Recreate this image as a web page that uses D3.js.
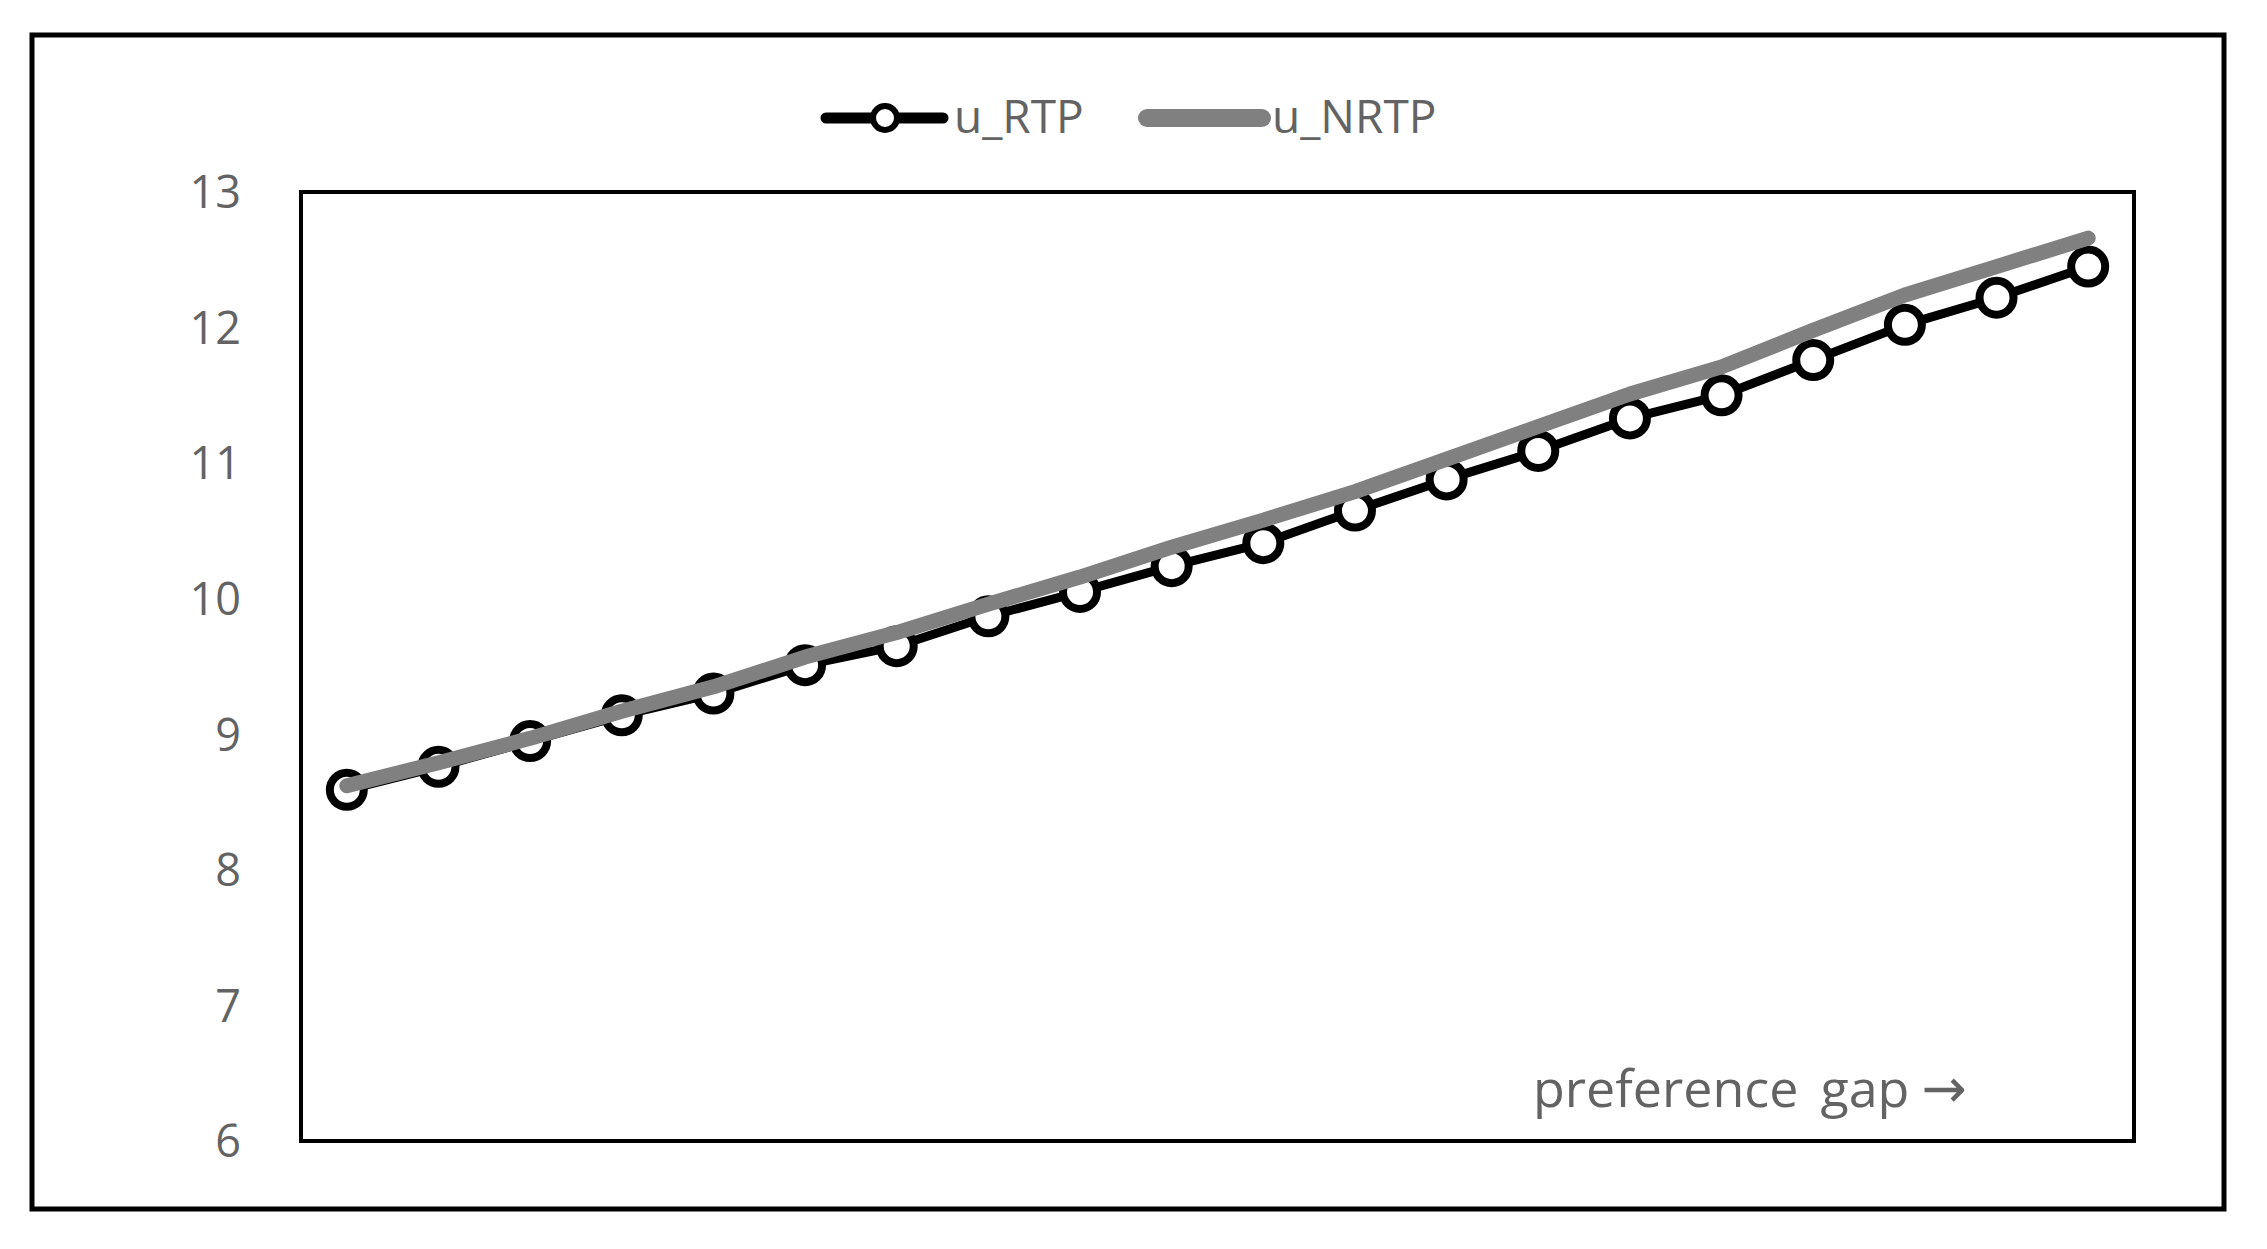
<!DOCTYPE html>
<html>
<head>
<meta charset="utf-8">
<script src="https://cdn.jsdelivr.net/npm/d3@7"></script>
<style>
  html, body { margin: 0; padding: 0; background: #fff; }
  svg { display: block; }
</style>
</head>
<body>
<svg id="chart" width="2267" height="1249"></svg>
<script>
// ---- data ----
const categories = ["1","2","3","4","5","6","7","8","9","10","11","12","13","14","15","16","17","18","19","20"];
const uRTP  = [8.59, 8.76, 8.95, 9.14, 9.30, 9.51, 9.65, 9.87, 10.05, 10.24, 10.41, 10.65, 10.88, 11.09, 11.33, 11.50, 11.76, 12.02, 12.22, 12.45];
const uNRTP = [8.62, 8.79, 8.97, 9.17, 9.35, 9.57, 9.75, 9.96, 10.16, 10.38, 10.58, 10.79, 11.03, 11.27, 11.51, 11.71, 11.98, 12.24, 12.45, 12.66];
const yTicks = [6, 7, 8, 9, 10, 11, 12, 13];
const seriesNames = ["u_RTP", "u_NRTP"];
const axisNoteWords = ["preference", "gap"];
const axisNoteArrow = "\u2192";

// ---- layout ----
const svg = d3.select("#chart");
const plot = { left: 301, right: 2134, top: 192, bottom: 1141 };
const textColor = "#636363";
const font = "'Open Sans', 'Noto Sans', sans-serif";

// outer frame
svg.append("rect")
  .attr("x", 32).attr("y", 35)
  .attr("width", 2224 - 32).attr("height", 1209 - 35)
  .attr("fill", "#fff").attr("stroke", "#000").attr("stroke-width", 5);

const x = d3.scalePoint().domain(categories).range([plot.left, plot.right]).padding(0.5);
const y = d3.scaleLinear().domain([6, 13]).range([plot.bottom, plot.top]);

// y axis labels
const yAxis = d3.axisLeft(y).tickValues(yTicks).tickSize(0).tickPadding(0).tickFormat(d3.format("d"));
const gy = svg.append("g").attr("transform", `translate(${241},0)`).call(yAxis);
gy.select(".domain").remove();
gy.selectAll("text")
  .attr("font-family", font).attr("font-size", 45)
  .attr("fill", textColor).attr("dy", "0.35em");

// plot frame
svg.append("rect")
  .attr("x", plot.left).attr("y", plot.top)
  .attr("width", plot.right - plot.left).attr("height", plot.bottom - plot.top)
  .attr("fill", "none").attr("stroke", "#000").attr("stroke-width", 4);

const line = d3.line().x((d, i) => x(categories[i])).y(d => y(d));

// RTP line + markers
svg.append("path").datum(uRTP)
  .attr("d", line).attr("fill", "none")
  .attr("stroke", "#000").attr("stroke-width", 9)
  .attr("stroke-linejoin", "round").attr("stroke-linecap", "round");

svg.append("g").selectAll("circle").data(uRTP).join("circle")
  .attr("cx", (d, i) => x(categories[i])).attr("cy", d => y(d))
  .attr("r", 17).attr("fill", "#fff").attr("stroke", "#000").attr("stroke-width", 8);

// NRTP line
svg.append("path").datum(uNRTP)
  .attr("d", line).attr("fill", "none")
  .attr("stroke", "#808080").attr("stroke-width", 15)
  .attr("stroke-linejoin", "round").attr("stroke-linecap", "round");

// axis note
const note = svg.append("text")
  .attr("x", 1533).attr("y", 1107)
  .attr("font-family", font).attr("font-size", 52)
  .attr("fill", textColor);
note.append("tspan").text(axisNoteWords[0]);
note.append("tspan").attr("dx", 22).text(axisNoteWords[1]);
note.append("tspan").attr("dx", 12).attr("font-family", "'DejaVu Sans', sans-serif")
  .attr("font-size", 54).text(axisNoteArrow);

// legend
const lg = svg.append("g");
lg.append("line").attr("x1", 826).attr("x2", 943).attr("y1", 118).attr("y2", 118)
  .attr("stroke", "#000").attr("stroke-width", 11).attr("stroke-linecap", "round");
lg.append("circle").attr("cx", 885).attr("cy", 118).attr("r", 12)
  .attr("fill", "#fff").attr("stroke", "#000").attr("stroke-width", 6);
lg.append("text").attr("x", 954).attr("y", 133)
  .attr("font-family", font).attr("font-size", 46).attr("fill", textColor)
  .text(seriesNames[0]);
lg.append("line").attr("x1", 1147).attr("x2", 1262).attr("y1", 118).attr("y2", 118)
  .attr("stroke", "#808080").attr("stroke-width", 18).attr("stroke-linecap", "round");
lg.append("text").attr("x", 1272).attr("y", 133)
  .attr("font-family", font).attr("font-size", 46).attr("fill", textColor)
  .text(seriesNames[1]);
</script>
</body>
</html>
